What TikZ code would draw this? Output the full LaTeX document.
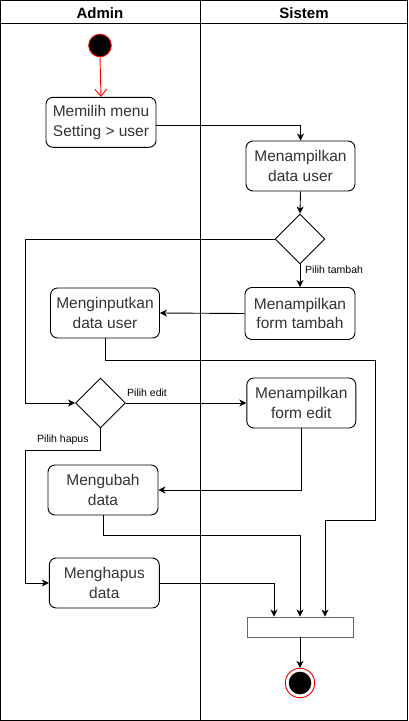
\documentclass[tikz,border=0pt]{standalone}
\usepackage{fontspec}
\setmainfont{Liberation Sans}
\usetikzlibrary{shapes.geometric,arrows.meta}
\definecolor{txt}{HTML}{333333}
\definecolor{barc}{HTML}{666666}
\tikzset{
  act/.style={draw, rounded corners=7pt, line width=0.9pt, minimum width=110pt, minimum height=50pt, inner sep=0pt, align=center, text=txt, font=\fontsize{15.5}{19.5}\selectfont},
  dec/.style={draw, diamond, aspect=1, minimum width=50pt, minimum height=50pt, inner sep=0pt, line width=0.9pt},
  arr/.style={line width=0.9pt, -{Stealth[length=7pt,width=7pt,inset=2pt]}},
  lbl/.style={font=\fontsize{10.5}{12}\selectfont, inner sep=0pt},
  hdr/.style={font=\bfseries\fontsize{15}{18}\selectfont, inner sep=0pt},
  lane/.style={line width=0.9pt}
}
\begin{document}
\begin{tikzpicture}[x=1pt,y=-1pt]
\useasboundingbox (0,0) rectangle (408,721);
% swimlanes
\draw[lane] (0.5,0.5) rectangle (407.5,720.5);
\draw[lane] (0.5,23) -- (407.5,23);
\draw[lane] (200.5,0.5) -- (200.5,720.5);
\node[hdr] (hadmin) at (100,13) {Admin};
\node[hdr] (hsistem) at (304,13) {Sistem};
% nodes
\node[circle, draw=red, fill=black, line width=0.9pt, minimum size=22.6pt, inner sep=0pt] (start) at (100,45.5) {};
\node[act] (memilih) at (101,122.3) {Memilih menu\\Setting > user};
\node[act, minimum width=109pt] (datauser) at (300.5,166) {Menampilkan\\data user};
\node[dec] (d1) at (300,239) {};
\node[act, minimum height=52pt] (ftambah) at (300,313.5) {Menampilkan\\form tambah};
\node[act, minimum width=109pt] (inp) at (105,313) {Menginputkan\\data user};
\node[dec] (d2) at (100.5,403) {};
\node[act, minimum width=109pt] (fedit) at (301.3,403) {Menampilkan\\form edit};
\node[act] (ubah) at (103,490) {Mengubah\\data};
\node[act] (hapus) at (104.3,583) {Menghapus\\data};
\node[draw=barc, fill=white, line width=0.9pt, minimum width=106pt, minimum height=20pt, inner sep=0pt] (bar) at (300,627) {};
\node[circle, draw=red, fill=white, line width=0.9pt, minimum size=29.4pt, inner sep=0pt,
  path picture={\fill[black] (path picture bounding box.center) circle (11.3pt);}] (end) at (300,683) {};
% helper coordinates
\coordinate (lx) at (25.7,0);
\coordinate (c1) at (375.7,360);
\coordinate (c2) at (325,520);
\coordinate (c3) at (300,535);
\coordinate (c4) at (25.7,450);
% connectors
\draw[line width=0.9pt, red, -{Straight Barb[length=7pt,width=12pt]}] (start.south) -- (memilih.north);
\draw[arr] ([yshift=-3.4pt]memilih.east) -| (datauser.north);
\draw[arr] (datauser.south) -- (d1.north);
\draw[arr] (d1.west) -- (d1.west -| lx) |- (d2.west);
\draw[arr] (d1.south) -- (ftambah.north);
\node[lbl, anchor=west] (ltambah) at (305,270) {Pilih tambah};
\draw[arr] (ftambah.west) -- (inp.east);
\draw[arr] (inp.south) |- (c1) |- (c2) -- (c2 |- bar.north);
\draw[arr] (d2.east) -- (fedit.west);
\node[lbl, anchor=west] (ledit) at (127,393) {Pilih edit};
\draw[arr] (fedit.south) |- (ubah.east);
\draw[arr] (d2.south) |- (c4) |- (hapus.west);
\node[lbl, anchor=west] (lhapus) at (37,439.5) {Pilih hapus};
\draw[arr] (ubah.south) |- (c3) -- (bar.north);
\draw[arr] (hapus.east) -| ([xshift=-26pt]bar.north);
\draw[arr] (bar.south) -- (end.north);
\end{tikzpicture}
\end{document}
